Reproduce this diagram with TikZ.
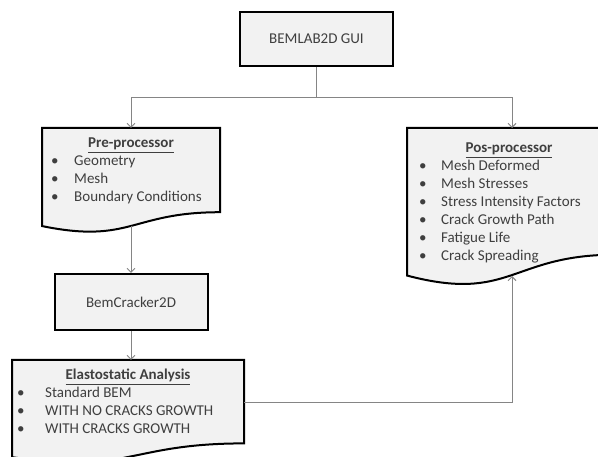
\documentclass[tikz,border=0pt]{standalone}
\usepackage{fontspec}
\setmainfont{Carlito}
\usetikzlibrary{arrows.meta}
\definecolor{boxfill}{HTML}{F2F2F2}
\definecolor{txt}{HTML}{3F3F3F}
\definecolor{conn}{HTML}{858585}
\newcommand{\docshape}[4]{%
  \draw[docbox] (#1,#2) -- (#3,#2) -- (#3,{#2+0.802*#4})
    .. controls ({(#1+#3)/2},{#2+0.802*#4}) and ({(#1+#3)/2},{#2+1.107*#4}) ..
    (#1,{#2+0.934*#4}) -- cycle;}
\tikzset{
  docbox/.style={draw=black, line width=2pt, fill=boxfill, line join=miter},
  procbox/.style={draw=black, line width=2pt, fill=boxfill, minimum width=153pt,
    minimum height=54pt, inner sep=0pt},
  titletext/.style={anchor=base, inner sep=0pt, font=\fontsize{15}{18}\selectfont\bfseries},
  itemtext/.style={anchor=base west, inner sep=0pt},
  conline/.style={draw=conn, line width=1pt},
  conarrow/.style={draw=conn, line width=1pt, -{Straight Barb[length=4pt,width=8pt]}},
}
\begin{document}
\begin{tikzpicture}[x=1pt, y=-1pt, font=\fontsize{15}{18}\selectfont, text=txt]
\useasboundingbox (0,0) rectangle (598,457);
\fill[white] (0,0) rectangle (598,457);

% top box
\node[procbox] (gui) at (316.5,39) {BEMLAB2D GUI};

% pre-processor
\docshape{42}{128}{220}{105}
\node[titletext] (pretitle) at (131,148) {\underline{Pre-processor}};
\foreach \t [count=\i] in {Geometry,Mesh,Boundary Conditions}
  \node[itemtext] (pre\i) at (51,{148+18*\i}) {\makebox[23pt][l]{•}\t};

% pos-processor
\docshape{407}{128}{615}{158}
\node[titletext] (postitle) at (509,153) {\underline{Pos-processor}};
\foreach \t [count=\i] in {Mesh Deformed,Mesh Stresses,Stress Intensity Factors,Crack Growth Path,Fatigue Life,Crack Spreading}
  \node[itemtext] (pos\i) at (419,{153+18*\i}) {\makebox[22pt][l]{•}\t};

% bemcracker
\node[procbox, minimum height=56pt] (bem) at (131,302) {BemCracker2D};

% elastostatic
\docshape{12}{360}{244}{104}
\node[titletext] (elatitle) at (128,380) {\underline{Elastostatic Analysis}};
\foreach \t [count=\i] in {Standard BEM,WITH NO CRACKS GROWTH,WITH CRACKS GROWTH}
  \node[itemtext] (ela\i) at (17,{380+18*\i}) {\makebox[28pt][l]{•}\t};

% connectors
\coordinate (j) at (316.5,98);
\coordinate (pretop) at (131,128);
\coordinate (postop) at (512,128);
\coordinate (prebot) at (131,226);
\coordinate (elatop) at (131,360);
\coordinate (elaright) at (244,403);
\coordinate (posbot) at (512,276);
\draw[conline] (gui.south) -- (j);
\draw[conarrow] (j) -| (pretop);
\draw[conarrow] (j) -| (postop);
\draw[conarrow] (prebot) -- (bem.north);
\draw[conarrow] (bem.south) -- (elatop);
\draw[conarrow] (elaright) -| (posbot);
\end{tikzpicture}
\end{document}
